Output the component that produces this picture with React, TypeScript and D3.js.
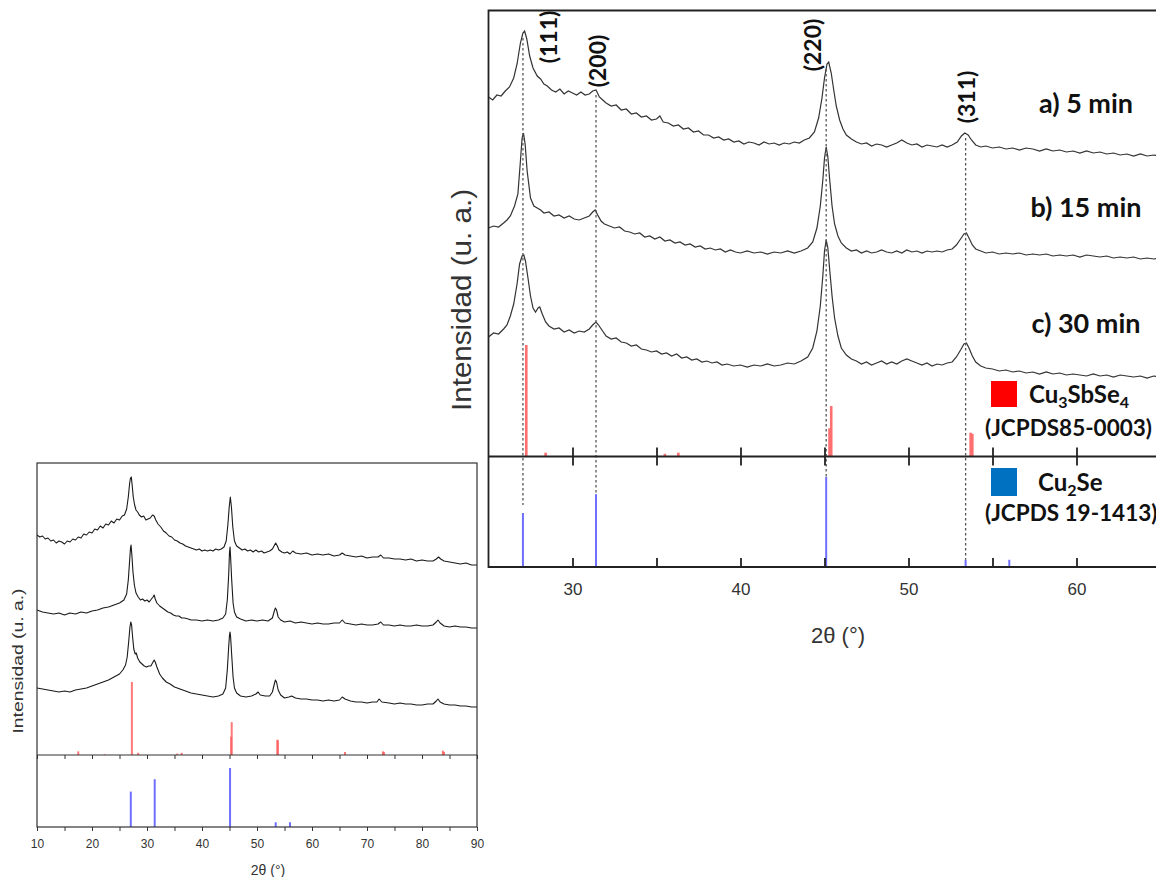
import React, { useEffect, useRef } from 'react';
import * as d3 from 'd3';

type Pt = [number, number];

// Miller indices marked on the zoomed panel
const hklLabels = ['(111)', '(200)', '(220)', '(311)'];
const hklPos = [27.05, 31.4, 45.1, 53.4];
const sampleLabels = ['a) 5 min', 'b) 15 min', 'c) 30 min'];

const zoomTicks = [30, 35, 40, 45, 50, 55, 60, 65];
const fullTicks = [10, 15, 20, 25, 30, 35, 40, 45, 50, 55, 60, 65, 70, 75, 80, 85, 90];

// reference patterns (relative intensity, %)
const cu3sbse4Pos = [17.5, 22.3, 27.25, 28.4, 35.5, 36.3, 45.3, 45.4, 53.7, 53.8, 66.0, 72.9, 73.1, 83.8, 84.0];
const cu3sbse4Int = [5, 1, 100, 3, 2, 3, 25, 45, 21, 20, 4, 5, 4, 6, 4];
const cu2sePos = [27.05, 31.4, 45.1, 53.4, 56.0];
const cu2seInt = [60, 81, 100, 8, 8];

// zoomed panel (25-65°), counts
const zoomA: Pt[] = [[25.0,359],[25.25,356],[25.5,361],[25.75,360],[26.0,365],[26.25,369],[26.5,378],[26.7,392],[26.9,413],[27.05,423],[27.15,425],[27.28,417],[27.45,400],[27.65,388],[27.9,380],[28.1,377],[28.3,372],[28.5,370],[28.75,366],[29.0,364],[29.25,367],[29.5,362],[29.75,365],[30.0,363],[30.25,361],[30.5,364],[30.75,361],[31.0,362],[31.2,365],[31.4,366],[31.6,359],[31.8,356],[32.0,353],[32.3,350],[32.6,351],[32.9,346],[33.2,347],[33.5,342],[33.8,343],[34.1,339],[34.4,340],[34.7,336],[35.0,337],[35.2,340],[35.4,334],[35.7,333],[36.0,330],[36.3,331],[36.6,327],[36.9,328],[37.2,324],[37.5,325],[37.8,321],[38.1,321],[38.4,318],[38.7,319],[39.0,316],[39.3,317],[39.6,314],[39.9,315],[40.2,312],[40.5,314],[40.8,313],[41.1,311],[41.4,314],[41.7,312],[42.0,313],[42.3,311],[42.6,313],[42.9,312],[43.2,314],[43.5,313],[43.8,316],[44.1,318],[44.4,324],[44.65,338],[44.85,358],[45.0,378],[45.15,392],[45.25,394],[45.4,383],[45.55,366],[45.7,350],[45.9,336],[46.1,327],[46.3,321],[46.6,317],[46.9,314],[47.2,312],[47.5,313],[47.8,310],[48.1,312],[48.4,311],[48.7,309],[49.0,311],[49.3,313],[49.6,316],[49.9,313],[50.2,311],[50.5,312],[50.8,309],[51.1,311],[51.4,310],[51.7,309],[52.0,311],[52.3,309],[52.6,311],[52.9,314],[53.15,320],[53.35,323],[53.55,321],[53.75,316],[54.0,311],[54.3,309],[54.6,310],[55.0,308],[55.4,309],[55.8,307],[56.2,308],[56.6,306],[57.0,308],[57.4,307],[57.8,305],[58.2,307],[58.6,305],[59.0,306],[59.4,304],[59.8,305],[60.2,303],[60.6,305],[61.0,303],[61.4,304],[61.8,302],[62.2,303],[62.6,301],[63.0,302],[63.4,300],[63.8,302],[64.2,300],[64.6,301],[65.0,300]];
const zoomB: Pt[] = [[25.0,228],[25.3,230],[25.6,229],[25.9,233],[26.1,236],[26.3,240],[26.55,250],[26.75,262],[26.9,295],[27.0,318],[27.08,323],[27.18,312],[27.3,285],[27.5,258],[27.7,250],[27.9,248],[28.1,246],[28.3,243],[28.6,244],[28.9,240],[29.2,241],[29.5,238],[29.8,240],[30.1,237],[30.4,236],[30.7,238],[31.0,240],[31.2,244],[31.35,246],[31.5,241],[31.7,235],[31.9,232],[32.2,230],[32.5,228],[32.8,229],[33.1,225],[33.4,224],[33.7,222],[34.0,223],[34.3,219],[34.6,220],[34.9,217],[35.2,219],[35.5,215],[35.8,216],[36.1,213],[36.4,214],[36.7,211],[37.0,212],[37.3,209],[37.6,210],[37.9,207],[38.2,208],[38.5,206],[38.8,207],[39.1,204],[39.4,206],[39.7,204],[40.0,203],[40.4,205],[40.8,203],[41.2,204],[41.6,202],[42.0,204],[42.4,203],[42.8,205],[43.2,203],[43.6,205],[44.0,208],[44.3,214],[44.55,228],[44.75,250],[44.9,276],[45.0,298],[45.1,309],[45.2,299],[45.3,278],[45.45,250],[45.6,232],[45.8,220],[46.0,213],[46.3,208],[46.6,205],[46.9,206],[47.2,203],[47.5,205],[47.8,203],[48.1,204],[48.4,206],[48.7,204],[49.0,203],[49.3,205],[49.6,203],[49.9,206],[50.2,204],[50.5,205],[50.8,203],[51.1,205],[51.4,204],[51.7,205],[52.0,204],[52.3,206],[52.6,207],[52.85,211],[53.1,217],[53.3,222],[53.45,223],[53.6,218],[53.8,211],[54.0,207],[54.3,205],[54.6,203],[55.0,204],[55.4,202],[55.8,203],[56.2,202],[56.6,203],[57.0,201],[57.4,202],[57.8,201],[58.2,202],[58.6,200],[59.0,201],[59.4,200],[59.8,201],[60.2,199],[60.6,201],[61.0,200],[61.4,199],[61.8,200],[62.2,198],[62.6,199],[63.0,198],[63.4,199],[63.8,197],[64.2,198],[64.6,197],[65.0,198]];
const zoomC: Pt[] = [[25.0,119],[25.3,123],[25.6,122],[25.9,127],[26.1,131],[26.3,140],[26.5,152],[26.7,172],[26.85,192],[27.0,200],[27.1,201],[27.2,195],[27.35,178],[27.5,160],[27.65,148],[27.8,144],[27.95,148],[28.05,149],[28.2,142],[28.4,134],[28.6,130],[28.9,127],[29.2,128],[29.5,124],[29.8,126],[30.1,123],[30.4,125],[30.7,124],[31.0,127],[31.2,131],[31.4,134],[31.55,131],[31.75,126],[32.0,120],[32.3,117],[32.6,118],[32.9,114],[33.2,113],[33.5,110],[33.8,111],[34.1,107],[34.4,106],[34.7,104],[35.0,105],[35.3,102],[35.6,103],[35.9,100],[36.2,102],[36.5,98],[36.8,99],[37.1,96],[37.4,97],[37.7,94],[38.0,95],[38.3,93],[38.6,94],[38.9,91],[39.2,92],[39.6,90],[40.0,91],[40.4,89],[40.8,91],[41.2,90],[41.6,92],[42.0,90],[42.4,91],[42.8,93],[43.2,92],[43.6,95],[44.0,99],[44.3,108],[44.55,125],[44.75,150],[44.9,180],[45.0,205],[45.1,216],[45.2,208],[45.3,188],[45.45,160],[45.6,138],[45.8,120],[46.0,108],[46.3,101],[46.6,97],[46.9,95],[47.2,92],[47.5,94],[47.8,91],[48.1,93],[48.4,95],[48.7,92],[49.0,94],[49.3,92],[49.6,95],[49.9,97],[50.2,95],[50.5,93],[50.8,91],[51.1,93],[51.4,90],[51.7,92],[52.0,91],[52.3,93],[52.6,94],[52.85,99],[53.1,106],[53.3,112],[53.45,113],[53.6,108],[53.8,100],[54.0,94],[54.3,90],[54.6,88],[55.0,87],[55.4,85],[55.8,86],[56.2,84],[56.6,85],[57.0,83],[57.4,84],[57.8,82],[58.2,84],[58.6,82],[59.0,83],[59.4,81],[59.8,82],[60.2,81],[60.6,80],[61.0,82],[61.4,80],[61.8,81],[62.2,79],[62.6,81],[63.0,80],[63.4,79],[63.8,80],[64.2,78],[64.6,80],[65.0,79]];

// full-range inset (10-90°), counts
const fullA: Pt[] = [[10,220],[10.5,218],[11,219],[11.5,216],[12,217],[12.5,214],[13,215],[13.5,212],[14,214],[14.5,213],[15,211],[15.5,214],[16,213],[16.5,216],[17,215],[17.5,218],[18,217],[18.5,221],[19,220],[19.5,223],[20,222],[20.5,226],[21,225],[21.5,229],[22,227],[22.5,231],[23,230],[23.5,234],[24,232],[24.5,236],[25,235],[25.5,239],[25.9,240],[26.3,246],[26.6,258],[26.85,272],[27.0,277],[27.15,278],[27.3,270],[27.5,258],[27.75,250],[28.0,245],[28.3,243],[28.6,240],[29.0,238],[29.4,239],[29.8,235],[30.2,236],[30.6,237],[31.0,240],[31.3,239],[31.6,235],[32.0,231],[32.5,228],[33.0,224],[33.5,222],[34.0,219],[34.5,218],[35.0,215],[35.5,214],[36.0,212],[36.5,211],[37.0,209],[37.5,208],[38.0,207],[38.5,206],[39.0,205],[39.5,206],[40.0,204],[40.5,205],[41.0,204],[41.5,205],[42.0,204],[42.5,206],[43.0,205],[43.5,206],[44.0,208],[44.4,214],[44.7,230],[44.95,248],[45.15,258],[45.35,248],[45.6,228],[45.9,214],[46.3,209],[46.8,207],[47.3,205],[47.8,206],[48.3,204],[48.8,205],[49.3,203],[49.8,205],[50.3,203],[50.8,204],[51.3,202],[51.8,203],[52.3,204],[52.8,206],[53.1,209],[53.4,212],[53.7,209],[54.0,205],[54.5,203],[55.0,202],[55.5,203],[56.0,201],[56.5,204],[57.0,202],[58,201],[59,202],[60,200],[61,201],[62,200],[63,201],[64,199],[65,200],[65.5,202],[66,200],[67,199],[68,198],[69,199],[70,197],[71,198],[72,198],[72.5,200],[73,197],[74,197],[75,196],[76,196],[77,195],[78,196],[79,194],[80,195],[81,194],[82,194],[82.6,196],[83.0,198],[83.4,196],[84,194],[85,193],[86,192],[87,191],[88,192],[89,190],[90,190]];
const fullB: Pt[] = [[10,145],[11,143],[12,142],[13,141],[14,142],[15,140],[16,142],[17,141],[18,143],[19,142],[20,144],[21,145],[22,147],[23,148],[24,150],[25,152],[25.8,155],[26.3,161],[26.6,175],[26.85,195],[27.0,207],[27.1,210],[27.25,200],[27.45,183],[27.7,170],[28.0,162],[28.4,158],[28.8,155],[29.2,156],[29.6,154],[30.0,155],[30.4,153],[30.8,156],[31.1,158],[31.3,160],[31.5,156],[31.8,152],[32.3,149],[32.8,147],[33.3,145],[33.8,143],[34.3,142],[34.8,140],[35.3,139],[35.8,139],[36.3,137],[36.8,137],[37.5,136],[38,135],[39,135],[40,134],[41,135],[42,134],[43,135],[43.8,137],[44.3,141],[44.6,155],[44.85,180],[45.0,203],[45.1,208],[45.2,198],[45.4,175],[45.65,152],[45.9,143],[46.3,138],[47,136],[48,134],[49,135],[50,134],[51,135],[52,134],[52.8,137],[53.15,144],[53.35,147],[53.55,145],[53.85,138],[54.3,135],[55,133],[56,134],[57,132],[58,133],[59,132],[60,131],[61,132],[62,131],[63,131],[64,132],[65.0,132],[65.5,135],[66.0,132],[67,131],[68,130],[69,131],[70,130],[71,130],[72,131],[72.5,133],[73,130],[74,130],[75,129],[76,130],[77,129],[78,129],[79,130],[80,129],[81,129],[82,130],[82.6,133],[82.9,135],[83.3,132],[84,129],[85,128],[86,129],[87,128],[88,128],[89,127],[90,127]];
const fullC: Pt[] = [[10,67],[11,66],[12,65],[13,64],[14,63],[15,64],[16,63],[17,65],[18,66],[19,67],[20,69],[21,71],[22,73],[23,75],[24,78],[25,81],[25.6,85],[26.1,90],[26.4,98],[26.7,115],[26.9,128],[27.05,133],[27.2,130],[27.4,117],[27.6,106],[27.85,101],[28.05,102],[28.3,97],[28.7,93],[29.1,91],[29.5,89],[29.9,88],[30.3,89],[30.7,89],[31.0,92],[31.3,95],[31.5,93],[31.8,88],[32.3,81],[32.8,77],[33.5,73],[34.2,71],[35,68],[36,66],[37,64],[38,62],[39,61],[40,60],[41,59],[42,58],[43,59],[43.8,61],[44.3,67],[44.6,85],[44.85,108],[45.0,120],[45.1,123],[45.2,118],[45.4,100],[45.65,78],[45.9,67],[46.3,62],[47,59],[48,58],[49,59],[49.8,61],[50.2,63],[50.6,60],[51.5,59],[52.3,59],[52.8,63],[53.15,71],[53.35,75],[53.55,73],[53.85,65],[54.3,60],[55,57],[55.8,58],[56.3,59],[57,57],[58,56],[59,56],[60,55],[61,55],[62,54],[63,55],[64,54],[65,55],[65.5,58],[66.0,56],[67,54],[68,53],[69,53],[70,52],[71,53],[71.8,53],[72.2,56],[72.7,53],[74,52],[75,51],[76,52],[77,51],[78,51],[79,50],[80,50],[81,51],[82,51],[82.6,54],[82.9,56],[83.3,53],[84,51],[85,50],[86,50],[87,49],[88,49],[89,48],[90,48]];

// label placement for the hkl tags (offset from the line, centre y)
const hklDx = [26, 2, -13, 1];
const hklY = [37, 61, 45, 97];
const sampleY = [103, 207, 323];

const SANS = '"Liberation Sans", Arial, sans-serif';
const BOLD = 'Lato, "Open Sans", sans-serif';

const App = () => {
    const svgRef = useRef<SVGSVGElement>(null);

    useEffect(() => {
        const svg = d3.select(svgRef.current);
        svg.selectAll('*').remove();

        // ---------- zoomed panel (right) ----------
        const zx = d3.scaleLinear().domain([25, 65]).range([488.5, 1160.5]);
        const zy = d3.scaleLinear().domain([0, 446]).range([456, 10]);
        const zRed = d3.scaleLinear().domain([0, 100]).range([456, 345]);
        const zBlue = d3.scaleLinear().domain([0, 100]).range([567, 477]);

        const right = svg.append('g');
        const zLine = d3.line<Pt>().x(d => zx(d[0])).y(d => zy(d[1]));

        // reference sticks
        right.selectAll('.red').data(d3.zip(cu3sbse4Pos, cu3sbse4Int).filter(d => d[0] > 25 && d[0] < 65))
            .enter().append('line')
            .attr('x1', d => zx(d[0])).attr('x2', d => zx(d[0]))
            .attr('y1', zRed(0)).attr('y2', d => zRed(d[1]))
            .attr('stroke', '#ff6f6f').attr('stroke-width', 2.6);
        right.selectAll('.blue').data(d3.zip(cu2sePos, cu2seInt))
            .enter().append('line')
            .attr('x1', d => zx(d[0])).attr('x2', d => zx(d[0]))
            .attr('y1', zBlue(0)).attr('y2', d => zBlue(d[1]))
            .attr('stroke', '#6f6fff').attr('stroke-width', 2);

        [zoomA, zoomB, zoomC].forEach(c => {
            right.append('path').attr('d', zLine(c)).attr('fill', 'none')
                .attr('stroke', '#333').attr('stroke-width', 1.2).attr('stroke-linejoin', 'miter');
        });

        // dotted guides from curve a peak down to the Cu2Se stick
        const bis = d3.bisector((d: Pt) => d[0]).center;
        hklPos.forEach((p, i) => {
            const top = zy(zoomA[bis(zoomA, p)][1]) + 5;
            const bot = zBlue(cu2seInt[i]) - (i === 0 ? 8 : 0);
            right.append('line').attr('x1', zx(p)).attr('x2', zx(p)).attr('y1', top).attr('y2', bot)
                .attr('stroke', '#555').attr('stroke-width', 1.3).attr('stroke-dasharray', '2.5,2.5');
            right.append('text')
                .attr('transform', `translate(${zx(p) + hklDx[i]},${hklY[i]}) rotate(-90)`)
                .attr('text-anchor', 'middle').attr('dy', '0.36em')
                .style('font-family', BOLD).style('font-weight', 700).style('font-size', '23px')
                .attr('fill', '#111').text(hklLabels[i]);
        });

        // frame
        right.append('path').attr('d', 'M1160,10.5H488.5V567H1160').attr('fill', 'none')
            .attr('stroke', '#222').attr('stroke-width', 1.8);
        right.append('line').attr('x1', 488.5).attr('x2', 1160).attr('y1', 456.5).attr('y2', 456.5)
            .attr('stroke', '#222').attr('stroke-width', 1.8);

        const zAxis = right.append('g').attr('transform', 'translate(0,567)')
            .call(d3.axisBottom(zx).tickValues(zoomTicks).tickSize(-9).tickPadding(16)
                .tickFormat(d => (+d % 10 === 0 && +d < 65 ? String(d) : '')));
        zAxis.select('.domain').remove();
        zAxis.selectAll('line').attr('stroke', '#222').attr('stroke-width', 1.8);
        zAxis.selectAll('text').style('font-family', SANS).style('font-size', '17px').attr('fill', '#333');

        [-9, 9].forEach(s => {
            const g = right.append('g').attr('transform', 'translate(0,456.5)')
                .call(d3.axisBottom(zx).tickValues(zoomTicks).tickSize(s).tickFormat(() => ''));
            g.select('.domain').remove();
            g.selectAll('line').attr('stroke', '#222').attr('stroke-width', 1.8);
        });

        right.append('text').attr('x', 838).attr('y', 635).attr('text-anchor', 'middle').attr('dy', '0.35em')
            .style('font-family', SANS).style('font-size', '22px').attr('fill', '#333').text('2θ (°)');
        right.append('text').attr('transform', 'translate(462,300) rotate(-90)')
            .attr('text-anchor', 'middle').attr('dy', '0.35em')
            .attr('textLength', 222).attr('lengthAdjust', 'spacingAndGlyphs')
            .style('font-family', SANS).style('font-size', '27px').attr('fill', '#333').text('Intensidad (u. a.)');

        sampleLabels.forEach((s, i) => {
            right.append('text').attr('x', 1086).attr('y', sampleY[i]).attr('text-anchor', 'middle').attr('dy', '0.36em')
                .style('font-family', BOLD).style('font-weight', 700).style('font-size', '27px')
                .attr('fill', '#111').text(s);
        });

        // legend
        const bold = (t: d3.Selection<SVGTextElement, unknown, null, undefined>, size: number) =>
            t.style('font-family', BOLD).style('font-weight', 700).style('font-size', `${size}px`).attr('fill', '#111');
        right.append('rect').attr('x', 991).attr('y', 381).attr('width', 26).attr('height', 26).attr('fill', '#ff0000');
        right.append('rect').attr('x', 991).attr('y', 468).attr('width', 26).attr('height', 28).attr('fill', '#0070c0');
        const t1 = right.append('text').attr('x', 1029).attr('y', 403);
        bold(t1, 24);
        t1.append('tspan').text('Cu');
        t1.append('tspan').attr('dy', 5).style('font-size', '16px').text('3');
        t1.append('tspan').attr('dy', -5).text('SbSe');
        t1.append('tspan').attr('dy', 5).style('font-size', '16px').text('4');
        bold(right.append('text').attr('x', 985).attr('y', 436).text('(JCPDS85-0003)'), 22.5);
        const t2 = right.append('text').attr('x', 1038).attr('y', 491);
        bold(t2, 24);
        t2.append('tspan').text('Cu');
        t2.append('tspan').attr('dy', 5).style('font-size', '16px').text('2');
        t2.append('tspan').attr('dy', -5).text('Se');
        bold(right.append('text').attr('x', 985).attr('y', 521).text('(JCPDS 19-1413)'), 22.5);

        // ---------- full-range inset (left) ----------
        const fx = d3.scaleLinear().domain([10, 90]).range([37, 477]);
        const fy = d3.scaleLinear().domain([0, 292]).range([755, 463]);
        const fRed = d3.scaleLinear().domain([0, 100]).range([755, 682]);
        const fBlue = d3.scaleLinear().domain([0, 100]).range([827, 768]);
        const left = svg.append('g');
        const fLine = d3.line<Pt>().x(d => fx(d[0])).y(d => fy(d[1]));

        left.selectAll('.red').data(d3.zip(cu3sbse4Pos, cu3sbse4Int))
            .enter().append('line')
            .attr('x1', d => fx(d[0])).attr('x2', d => fx(d[0]))
            .attr('y1', fRed(0)).attr('y2', d => fRed(d[1]))
            .attr('stroke', '#ff6060').attr('stroke-width', 2).attr('opacity', 0.85);
        left.selectAll('.blue').data(d3.zip(cu2sePos, cu2seInt))
            .enter().append('line')
            .attr('x1', d => fx(d[0])).attr('x2', d => fx(d[0]))
            .attr('y1', fBlue(0)).attr('y2', d => fBlue(d[1]))
            .attr('stroke', '#6f6fff').attr('stroke-width', 2);

        [fullA, fullB, fullC].forEach(c => {
            left.append('path').attr('d', fLine(c)).attr('fill', 'none')
                .attr('stroke', '#1a1a1a').attr('stroke-width', 1.1).attr('stroke-linejoin', 'round');
        });

        left.append('rect').attr('x', 37).attr('y', 463).attr('width', 440).attr('height', 364)
            .attr('fill', 'none').attr('stroke', '#333').attr('stroke-width', 1.2);
        left.append('line').attr('x1', 37).attr('x2', 477).attr('y1', 755).attr('y2', 755)
            .attr('stroke', '#333').attr('stroke-width', 1.2);

        const fAxis = left.append('g').attr('transform', 'translate(0,827)')
            .call(d3.axisBottom(fx).tickValues(fullTicks).tickSize(4).tickPadding(8)
                .tickFormat(d => (+d % 10 === 0 ? String(d) : '')));
        fAxis.select('.domain').remove();
        fAxis.selectAll('line').attr('stroke', '#333');
        fAxis.selectAll('text').style('font-family', SANS).style('font-size', '12px').attr('fill', '#333');
        const sep = left.append('g').attr('transform', 'translate(0,755)')
            .call(d3.axisBottom(fx).tickValues(fullTicks).tickSize(4).tickFormat(() => ''));
        sep.select('.domain').remove();
        sep.selectAll('line').attr('stroke', '#333');

        left.append('text').attr('x', 268).attr('y', 870).attr('text-anchor', 'middle').attr('dy', '0.35em')
            .style('font-family', SANS).style('font-size', '14px').attr('fill', '#333').text('2θ (°)');
        left.append('text').attr('transform', 'translate(18,661) rotate(-90)')
            .attr('text-anchor', 'middle').attr('dy', '0.35em')
            .attr('textLength', 145).attr('lengthAdjust', 'spacingAndGlyphs')
            .style('font-family', SANS).style('font-size', '15px').attr('fill', '#333').text('Intensidad (u. a.)');
    }, []);

    return (
        <svg ref={svgRef} width={1156} height={877}
             style={{ position: 'absolute', left: 0, top: 0, background: '#fff' }} />
    );
};

export default App;
